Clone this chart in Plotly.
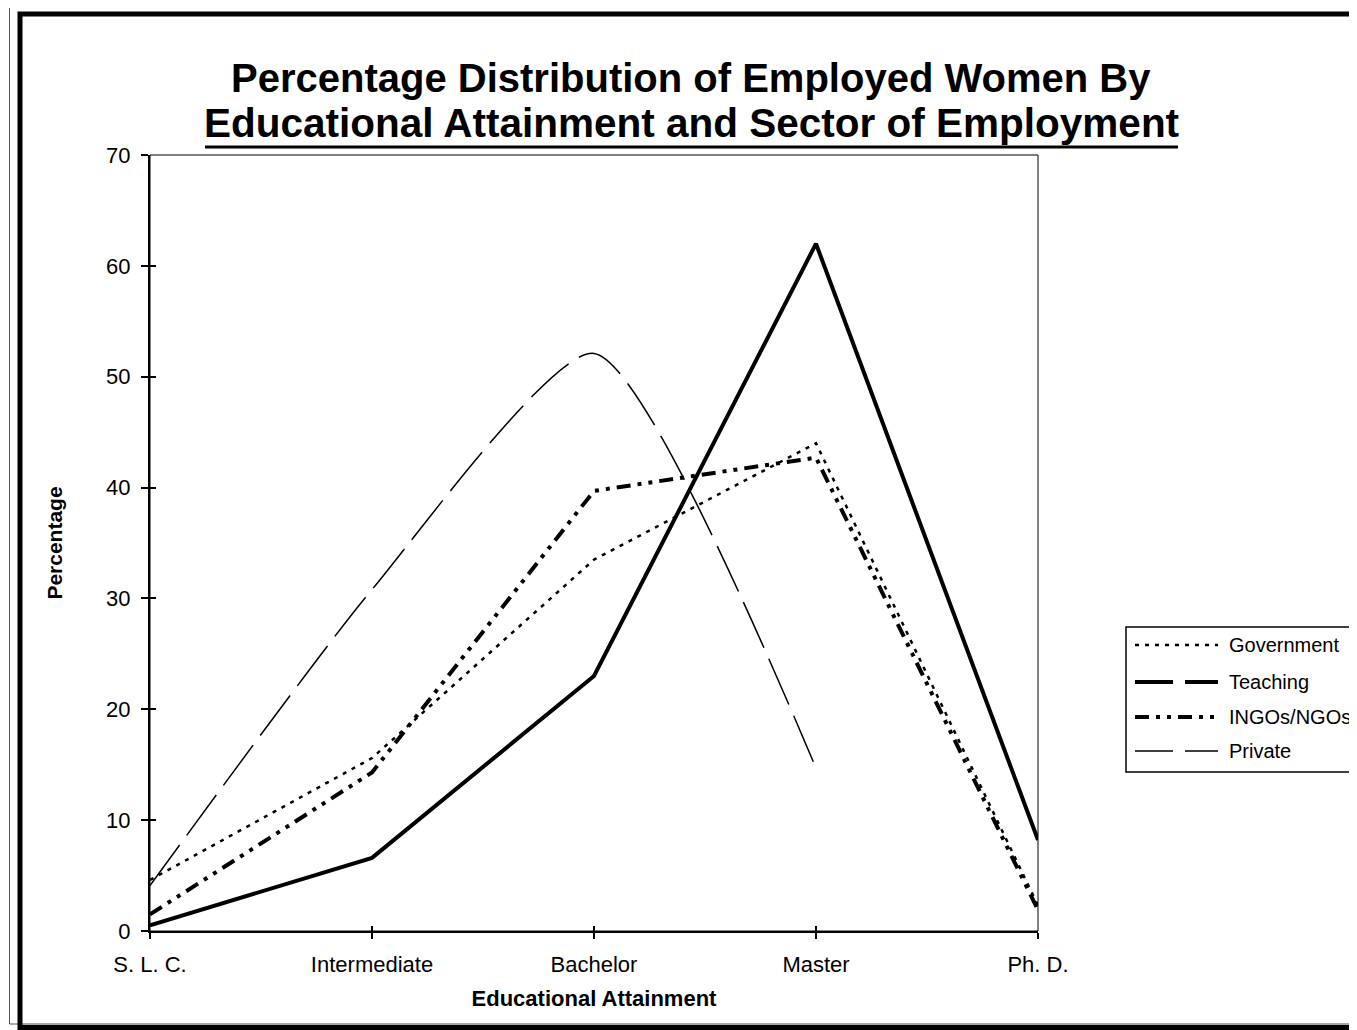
import plotly.graph_objects as go

categories = ["S. L. C.", "Intermediate", "Bachelor", "Master", "Ph. D."]
government = [4.6, 15.6, 33.5, 44.0, 2.3]
teaching = [0.5, 6.6, 23.0, 62.0, 8.2]
ingos = [1.5, 14.3, 39.7, 42.7, 1.9]
private = [4.1, 30.8, 52.1, 14.7, None]
y_ticks = [0, 10, 20, 30, 40, 50, 60, 70]

FONT = "Arial, Liberation Sans, sans-serif"
OFF = 8  # page body margin
W, H = 1357 - OFF, 1030 - OFF
# plot area in page pixels
L, R, T, B = 150, 1038, 155, 931

def px(xp):
    return (xp - L) / (R - L)

def py(yp):
    return (B - yp) / (B - T)

xs = list(range(len(categories)))

fig = go.Figure()
fig.add_trace(go.Scatter(x=xs, y=private, mode="lines", name="Private",
                         line=dict(color="black", width=1.5, dash="50px,12px", shape="spline", smoothing=0.6)))
fig.add_trace(go.Scatter(x=xs, y=government, mode="lines", name="Government",
                         line=dict(color="black", width=2.5, dash="4px,6px")))
fig.add_trace(go.Scatter(x=xs, y=ingos, mode="lines", name="INGOs/NGOs",
                         line=dict(color="black", width=4, dash="14px,7px,4px,7px,4px,7px")))
fig.add_trace(go.Scatter(x=xs, y=teaching, mode="lines", name="Teaching",
                         line=dict(color="black", width=4)))
# helper trace for the inner half of the crossing tick marks
fig.add_trace(go.Scatter(x=[0], y=[0], xaxis="x2", yaxis="y2", mode="markers",
                         marker=dict(opacity=0), hoverinfo="skip", showlegend=False))

tick_common = dict(showgrid=False, zeroline=False, tickcolor="black", tickwidth=1.5)

fig.update_layout(
    width=W, height=H,
    margin=dict(l=L - OFF, r=W - (R - OFF), t=T - OFF, b=H - (B - OFF), pad=0),
    paper_bgcolor="white", plot_bgcolor="white",
    showlegend=False,
    font=dict(family=FONT, color="black", size=22),
    xaxis=dict(range=[0, 4], tickmode="array", tickvals=xs, ticktext=categories,
               showline=True, linecolor="black", linewidth=2,
               ticks="outside", ticklen=6,
               tickfont=dict(size=22, family=FONT), ticklabelstandoff=7,
               title=dict(text="<b>Educational Attainment</b>", font=dict(size=22, family=FONT), standoff=14),
               **tick_common),
    yaxis=dict(range=[0, 70], tickmode="array", tickvals=y_ticks,
               showline=True, linecolor="black", linewidth=2,
               ticks="outside", ticklen=7,
               tickfont=dict(size=22, family=FONT), ticklabelstandoff=6,
               title=dict(text="<b>Percentage</b>", font=dict(size=21, family=FONT), standoff=38),
               **tick_common),
    xaxis2=dict(range=[0, 4], overlaying="x", tickmode="array", tickvals=xs, showticklabels=False,
                ticks="inside", ticklen=5, showline=False, **tick_common),
    yaxis2=dict(range=[0, 70], overlaying="y", tickmode="array", tickvals=y_ticks, showticklabels=False,
                ticks="inside", ticklen=6, showline=False, **tick_common),
)

shapes = []
# plot-area border
shapes.append(dict(type="rect", xref="paper", yref="paper", x0=0, x1=1, y0=0, y1=1,
                   line=dict(color="black", width=1)))
# outer frames
shapes.append(dict(type="rect", xref="paper", yref="paper", x0=px(9.5), x1=px(1370), y0=py(1024), y1=py(4),
                   line=dict(color="#555555", width=1), layer="below"))
shapes.append(dict(type="rect", xref="paper", yref="paper", x0=px(20), x1=px(1380), y0=py(1027.5), y1=py(14),
                   line=dict(color="black", width=5), layer="below"))
# title underline
shapes.append(dict(type="line", xref="paper", yref="paper", x0=px(205), x1=px(1178), y0=py(147), y1=py(147),
                   line=dict(color="black", width=3)))

# custom legend
leg_names = ["Government", "Teaching", "INGOs/NGOs", "Private"]
leg_styles = [
    dict(width=2.5, dash="4px,6px"),
    dict(width=4, dash="38px,12px"),
    dict(width=4, dash="14px,7px,4px,7px,4px,7px"),
    dict(width=1.5, dash="38px,12px"),
]
leg_y = [645, 682, 717, 751]
shapes.append(dict(type="rect", xref="paper", yref="paper", x0=px(1126), x1=px(1400), y0=py(772), y1=py(627),
                   line=dict(color="black", width=1.5), fillcolor="white"))
annotations = []
for name, st, yy in zip(leg_names, leg_styles, leg_y):
    shapes.append(dict(type="line", xref="paper", yref="paper", x0=px(1135), x1=px(1218),
                       y0=py(yy), y1=py(yy), line=dict(color="black", **st)))
    annotations.append(dict(xref="paper", yref="paper", x=px(1227), y=py(yy), text=name,
                            showarrow=False, xanchor="left", yanchor="middle",
                            font=dict(size=20, family=FONT, color="black")))

annotations.append(dict(xref="paper", yref="paper", x=px(691), y=py(78),
                        text="<b>Percentage Distribution of Employed Women By</b>",
                        showarrow=False, xanchor="center", yanchor="middle",
                        font=dict(size=40, family=FONT, color="black")))
annotations.append(dict(xref="paper", yref="paper", x=px(691), y=py(123),
                        text="<b>Educational Attainment and Sector of Employment</b>",
                        showarrow=False, xanchor="center", yanchor="middle",
                        font=dict(size=40.5, family=FONT, color="black")))

fig.update_layout(shapes=shapes, annotations=annotations)

fig.write_html("out.html")
